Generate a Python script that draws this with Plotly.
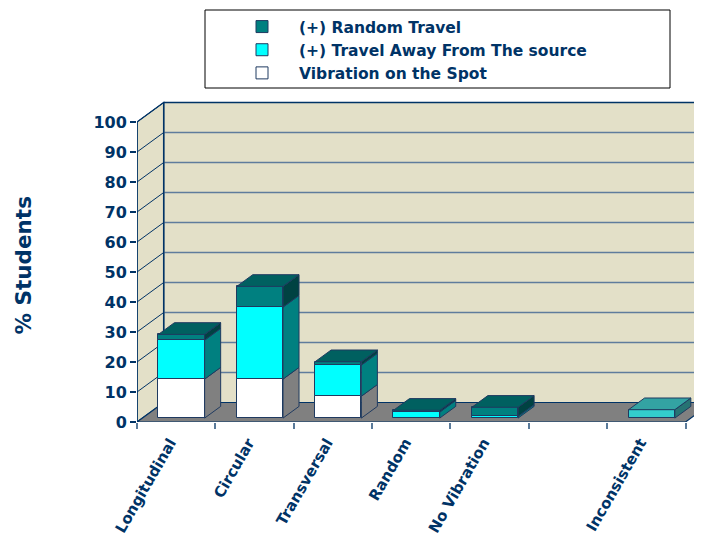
import plotly.graph_objects as go

# ---------------- data ----------------
categories = ["Longitudinal", "Circular", "Transversal", "Random", "No Vibration", "", "Inconsistent"]
vibration_on_spot = [13.0, 13.0, 7.3, 0.0, 0.0, 0.0, 0.0]
travel_away = [13.0, 24.0, 10.4, 2.0, 0.6, 0.0, 0.0]
random_travel = [1.9, 6.9, 1.1, 0.6, 3.0, 0.0, 0.0]
inconsistent = [0.0, 0.0, 0.0, 0.0, 0.0, 0.0, 2.8]
y_ticks = list(range(0, 101, 10))

# ---------------- geometry / style ----------------
OFF = 8                      # page body margin
W, H = 702 - OFF, 537 - OFF
M_L, M_R, M_T, M_B = 137 - OFF, 0, 99 - OFF, 115
PW, PH = W - M_L - M_R, H - M_T - M_B
PX_PER_CAT = 78.36
PX_PER_UNIT = 3.0
X_MAX = PW / PX_PER_CAT
Y_MAX = PH / PX_PER_UNIT
DX = 26.7 / PX_PER_CAT          # depth offset in category units
DY = 19.5 / PX_PER_UNIT         # depth offset in value units
BAR_W = 0.59
BAR_FRONT = 0.2
BAR_DEPTH = 0.6
NAVY = "#003366"
EDGE = "#1F3A60"
WALL = "#E3E0C8"
FLOOR = "#808080"
GRID_BACK = "#5F7C9C"
FONT = "DejaVu Sans"
N = len(categories)


def px_x(p):   # page pixel -> paper x
    return (p - OFF - M_L) / PW


def px_y(p):   # page pixel -> paper y
    return 1 - (p - OFF - M_T) / PH


series = [
    ("Vibration on the Spot", vibration_on_spot, "#FFFFFF", "#808080", "#C0C0C0", True),
    ("(+) Travel Away From The source", travel_away, "#00FFFF", "#008080", "#00C0C0", True),
    ("(+) Random Travel", random_travel, "#008080", "#004242", "#006060", True),
    ("Inconsistent", inconsistent, "#33CCCC", "#267373", "#33A3A3", False),
]

fig = go.Figure()

xs_front = [i + 0.5 + BAR_FRONT * DX for i in range(N)]
base_front = BAR_FRONT * DY

stack_top = [base_front] * N
bases = []
for name, vals, *_ in series:
    if name == "Inconsistent":
        b = [base_front] * N
    else:
        b = list(stack_top)
        stack_top = [stack_top[i] + vals[i] for i in range(N)]
    bases.append(b)

topmost = [None] * N
for k, (name, vals, *_ ) in enumerate(series):
    for i in range(N):
        if vals[i] > 0:
            if topmost[i] is None or bases[k][i] + vals[i] >= bases[topmost[i]][i] + series[topmost[i]][1][i]:
                topmost[i] = k

# front faces as bars
for k, (name, vals, front, side, top, legend) in enumerate(series):
    fig.add_trace(go.Bar(
        x=xs_front, y=[v if v > 0 else None for v in vals], base=bases[k],
        width=BAR_W, name=name, showlegend=legend,
        marker=dict(color=front, line=dict(color=EDGE, width=1)),
        hoverinfo="skip",
    ))

# side and top faces as polygons
dx_b, dy_b = BAR_DEPTH * DX, BAR_DEPTH * DY
for k, (name, vals, front, side, top, legend) in enumerate(series):
    sx, sy, tx, ty = [], [], [], []
    for i in range(N):
        v = vals[i]
        if v <= 0:
            continue
        x0 = xs_front[i] - BAR_W / 2
        x1 = xs_front[i] + BAR_W / 2
        b = bases[k][i]
        t = b + v
        sx += [x1, x1 + dx_b, x1 + dx_b, x1, x1, None]
        sy += [b, b + dy_b, t + dy_b, t, b, None]
        if topmost[i] == k:
            tx += [x0, x1, x1 + dx_b, x0 + dx_b, x0, None]
            ty += [t, t, t + dy_b, t + dy_b, t, None]
    if sx:
        fig.add_trace(go.Scatter(x=sx, y=sy, mode="lines", fill="toself", fillcolor=side,
                                 line=dict(color=EDGE, width=1), showlegend=False, hoverinfo="skip"))
    if tx:
        fig.add_trace(go.Scatter(x=tx, y=ty, mode="lines", fill="toself", fillcolor=top,
                                 line=dict(color=EDGE, width=1), showlegend=False, hoverinfo="skip"))

# ---------------- walls, floor, grid ----------------
shapes = []
top_v = y_ticks[-1]
shapes.append(dict(type="rect", xref="x", yref="y", x0=DX, x1=X_MAX + 1, y0=DY, y1=top_v + DY,
                   fillcolor=WALL, line=dict(width=0), layer="below"))
shapes.append(dict(type="path", xref="x", yref="y",
                   path=f"M0,0 L{DX},{DY} L{DX},{top_v + DY} L0,{top_v} Z",
                   fillcolor=WALL, line=dict(color=NAVY, width=1.2), layer="below"))
shapes.append(dict(type="path", xref="x", yref="y",
                   path=f"M0,0 L{N},0 L{N + DX},{DY} L{DX},{DY} Z",
                   fillcolor=FLOOR, line=dict(color=NAVY, width=1.2), layer="below"))
for v in y_ticks[1:]:
    shapes.append(dict(type="line", xref="x", yref="y", x0=DX, x1=X_MAX + 1, y0=v + DY, y1=v + DY,
                       line=dict(color=NAVY if v == top_v else GRID_BACK, width=1.3), layer="below"))
    shapes.append(dict(type="line", xref="x", yref="y", x0=0, x1=DX, y0=v, y1=v + DY,
                       line=dict(color=NAVY, width=1), layer="below"))
shapes.append(dict(type="line", xref="x", yref="y", x0=DX, x1=DX, y0=DY, y1=top_v + DY,
                   line=dict(color=NAVY, width=1.5), layer="below"))
shapes.append(dict(type="line", xref="x", yref="y", x0=0, x1=0, y0=0, y1=top_v,
                   line=dict(color=NAVY, width=1.5), layer="below"))
# legend frame
shapes.append(dict(type="rect", xref="paper", yref="paper",
                   x0=px_x(205), x1=px_x(670), y0=px_y(88), y1=px_y(10),
                   fillcolor="white", line=dict(color="black", width=1), layer="below"))

fig.update_layout(
    width=W, height=H, autosize=False,
    margin=dict(l=M_L, r=M_R, t=M_T, b=M_B, pad=0),
    paper_bgcolor="white", plot_bgcolor="white",
    barmode="overlay", bargap=0,
    shapes=shapes,
    showlegend=True,
    legend=dict(
        x=px_x(225), xanchor="left",
        y=px_y(10), yanchor="top",
        bgcolor="rgba(0,0,0,0)", borderwidth=0, traceorder="reversed",
        itemwidth=64, font=dict(family=FONT, size=15.5, color=NAVY, weight="bold"),
    ),
    xaxis=dict(
        range=[0, X_MAX], tickmode="array",
        tickvals=[i + 0.5 for i, c in enumerate(categories) if c],
        ticktext=[c for c in categories if c],
        tickangle=-60, ticks="outside", ticklen=5, tickcolor="rgba(0,0,0,0)",
        ticklabelshift=-6,
        minor=dict(tickmode="linear", tick0=0, dtick=1, ticks="outside", ticklen=6,
                   tickcolor="#5A7A9A", tickwidth=1.5, showgrid=False),
        showgrid=False, zeroline=False, showline=False, automargin=False,
        tickfont=dict(family=FONT, size=15, color=NAVY, weight="bold"),
    ),
    yaxis=dict(
        range=[0, Y_MAX], tickmode="array", tickvals=y_ticks,
        ticks="outside", ticklen=6, tickwidth=1.5, tickcolor=NAVY,
        showgrid=False, zeroline=False, showline=False, automargin=False,
        tickfont=dict(family=FONT, size=16, color=NAVY, weight="bold"),
    ),
    annotations=[dict(
        text="% Students", textangle=-90, showarrow=False,
        xref="paper", yref="paper",
        x=px_x(22.5), y=px_y(266),
        xanchor="center", yanchor="middle",
        font=dict(family=FONT, size=21.5, color=NAVY, weight="bold"),
    )],
)

fig.write_html("out.html")
